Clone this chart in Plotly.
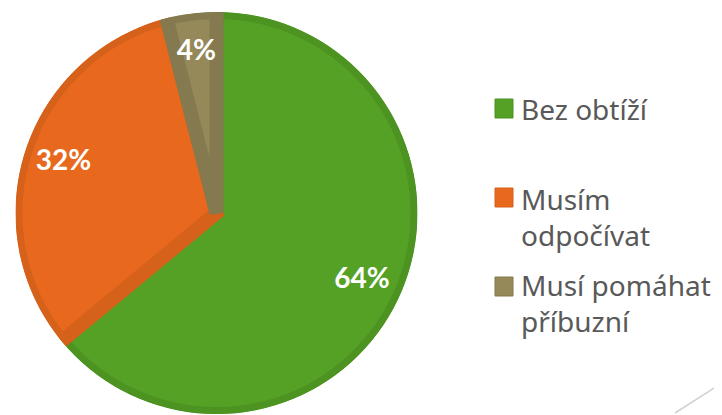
import plotly.graph_objects as go

labels = ["Bez obtíží", "Musím odpočívat", "Musí pomáhat příbuzní"]
legend_lines = ["Bez obtíží", "Musím<br>odpočívat", "Musí pomáhat<br>příbuzní"]
values = [64, 32, 4]
fill_colors = ["#55a125", "#e8691d", "#958859"]
edge_colors = ["#4c9322", "#d6611b", "#857a4f"]

W, H = 722, 415
OFF = 8  # page body margin offset
cx, cy, R = 216.5 - OFF, 213 - OFF, 201

total = sum(values)
mid_theta, widths = [], []
acc = 0
for v in values:
    mid_theta.append((acc + v / 2) / total * 360)
    widths.append(v / total * 360)
    acc += v
pct_text = [f"{round(v / total * 100)}%" for v in values]

dom_x = [(cx - R) / W, (cx + R) / W]
dom_y = [(H - cy - R) / H, (H - cy + R) / H]

fig = go.Figure()
fig.add_trace(go.Barpolar(
    r=[1] * len(values), theta=mid_theta, width=widths, base=0,
    marker=dict(color=fill_colors, line=dict(color=edge_colors, width=14)),
    text=labels, hoverinfo="text", showlegend=False,
))
fig.add_trace(go.Scatterpolar(
    r=[0.8] * len(values), theta=mid_theta, mode="text", text=pct_text,
    textfont=dict(family="Lato, 'Noto Sans', sans-serif", size=28, color="white", weight="bold"),
    textposition="middle center", showlegend=False, hoverinfo="skip",
))
fig.update_layout(
    width=W, height=H, margin=dict(l=0, r=0, t=0, b=0),
    paper_bgcolor="white", plot_bgcolor="white",
    polar=dict(
        domain=dict(x=dom_x, y=dom_y), bgcolor="rgba(0,0,0,0)",
        radialaxis=dict(visible=False, range=[0, 1], showgrid=False),
        angularaxis=dict(visible=False, rotation=90, direction="clockwise", showgrid=False),
    ),
)

# custom legend
sq_tops = [91, 180, 269]
txt_tops = [80, 170, 256]
shapes = []
annotations = []
for i, (txt, st, tt) in enumerate(zip(legend_lines, sq_tops, txt_tops)):
    shapes.append(dict(type="rect", xref="paper", yref="paper",
                       x0=487 / W, x1=505 / W, y0=1 - (st + 19) / H, y1=1 - st / H,
                       fillcolor=fill_colors[i], line=dict(color=edge_colors[i], width=1)))
    annotations.append(dict(xref="paper", yref="paper", x=511 / W, y=1 - tt / H,
                            xanchor="left", yanchor="top", align="left", showarrow=False,
                            text=txt, font=dict(family="'Noto Sans', sans-serif", size=28, color="#595959")))
# decorative slide line
shapes.append(dict(type="line", xref="paper", yref="paper", x0=667 / W, y0=1 - 405 / H,
                   x1=722 / W, y1=1 - 370 / H, line=dict(color="#d0d0d0", width=1.5)))
fig.update_layout(shapes=shapes, annotations=annotations)

fig.write_html("out.html")
